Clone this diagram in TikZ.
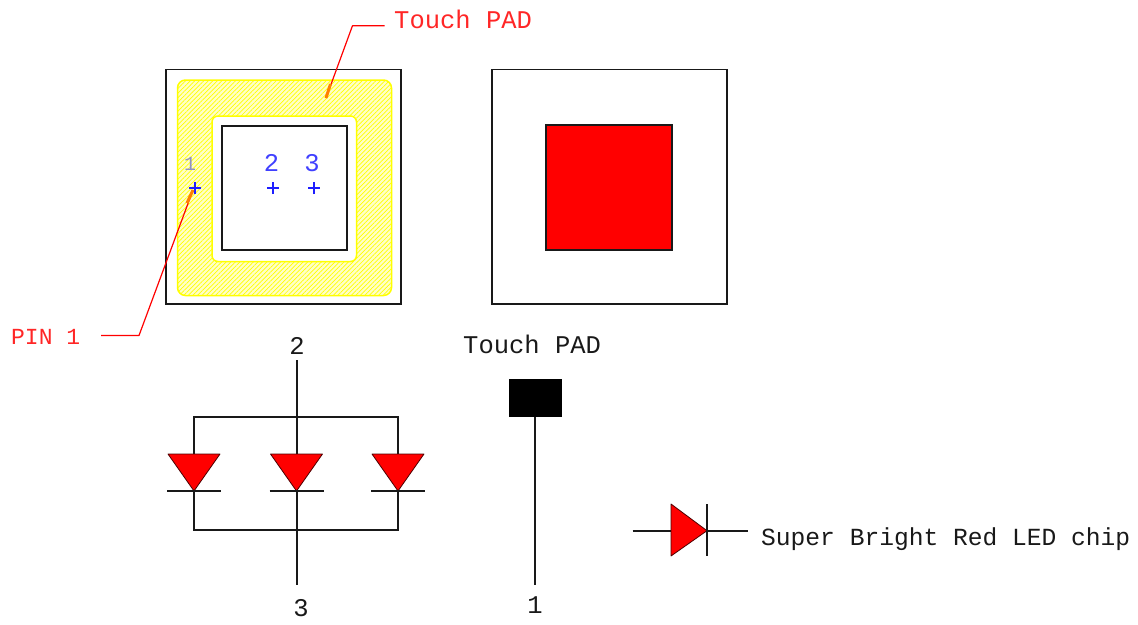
\documentclass[tikz,border=0pt]{standalone}
\usepackage{fontspec}
\setmainfont{Liberation Mono}
\usetikzlibrary{patterns.meta}
\definecolor{cadred}{RGB}{255,0,0}
\definecolor{cadblue}{RGB}{30,30,255}
\definecolor{cadyellow}{RGB}{255,255,0}
\definecolor{ink}{RGB}{25,25,25}
\newcommand{\padring}{[rounded corners=8pt] (177.5,80) rectangle (391.5,295.5) [rounded corners=6pt] (212,116) rectangle (356.5,261.5)}
\tikzset{
  wire/.style={draw=ink,line width=1.6pt},
  boxline/.style={draw=ink,line width=1.7pt},
  leader/.style={draw=cadred,line width=1.2pt,line join=round},
  leaderhot/.style={draw=orange,line width=3pt},
  cadtext/.style={inner sep=0pt,font=\fontsize{25.5}{26}\selectfont,text=ink},
  redtext/.style={cadtext,text=cadred!85!white},
  bluetext/.style={cadtext,text=cadblue!85!white},
  diodefill/.style={fill=cadred,draw=black!70!red,line width=.8pt,line join=round},
  crossmark/.style={draw=cadblue,line width=1.3pt},
}
\begin{document}
\begin{tikzpicture}[x=1pt,y=-1pt]
\useasboundingbox (0,0) rectangle (1138,624);
% left package
\draw[boxline] (166,69.5) rectangle (400.7,304);
% touch pad ring
\path[even odd rule,fill=cadyellow!22!white] \padring;
\path[even odd rule,pattern={Lines[angle=45,distance=3.2pt,line width=0.7pt]},pattern color=cadyellow] \padring;
\draw[cadyellow,line width=1.5pt] \padring;
\draw[boxline] (222,125.7) rectangle (347,250.3);
% pin labels and marks
\node[bluetext,anchor=base] (pintwo) at (271.5,171) {2};
\node[bluetext,anchor=base] (pinthree) at (312,171) {3};
\node[anchor=base,inner sep=0pt,font=\fontsize{20}{20}\selectfont,text=cadblue!30!gray!70!white] (pinone) at (190,170) {1};
\foreach \cx/\nm in {195/one,273/two,314/three}{
  \coordinate (cross\nm) at (\cx,188);
  \draw[crossmark] ([xshift=-6pt]cross\nm) -- ([xshift=6pt]cross\nm);
  \draw[crossmark] ([yshift=-6pt]cross\nm) -- ([yshift=6pt]cross\nm);
}
% leaders
\node[redtext,anchor=base west] (touchTop) at (394,28) {Touch PAD};
\coordinate (touchA) at (384.5,25.7);
\coordinate (touchB) at (352.5,25.7);
\coordinate (touchC) at (330.5,84);
\coordinate (touchD) at (326,98);
\draw[leader] (touchA) -- (touchB) -- (touchD);
\draw[leaderhot] (touchC) -- (touchD);
\node[redtext,anchor=base west,font=\fontsize{23}{24}\selectfont] (pinlabel) at (11,344) {PIN 1};
\coordinate (pinA) at (101,335.5);
\coordinate (pinB) at (139,335.5);
\coordinate (pinC) at (187,203);
\coordinate (pinD) at (193,190);
\draw[leader] (pinA) -- (pinB) -- (pinD);
\draw[leaderhot] (pinC) -- (pinD);
% right package
\draw[boxline] (491.7,69.5) rectangle (726.7,304);
\draw[boxline,fill=cadred] (546,125) rectangle (672,250);
% schematic
\node[cadtext,anchor=base] (sch2) at (297,354) {2};
\node[cadtext,anchor=base] (sch3) at (301,616) {3};
\node[cadtext,anchor=base] (sch1) at (535,613) {1};
\node[cadtext,anchor=base west] (schT) at (463,353) {Touch PAD};
\coordinate (wTop) at (297,360);
\coordinate (wBot) at (297,585);
\draw[wire] (wTop) -- (wBot);
\draw[wire] (194,491) -- (194,530) -- (398,530) -- (398,491);
\draw[wire] (194,454) -- (194,416.7) -- (398,416.7) -- (398,454);
\foreach \dx in {194,296.5,398}{
  \draw[diodefill] (\dx-26,454) -- (\dx+26,454) -- (\dx,491) -- cycle;
  \draw[wire] (\dx-27,491) -- (\dx+27,491);
}
\node[draw=black,fill=black,line width=1pt,minimum width=52pt,minimum height=37pt,inner sep=0pt] (pad) at (535,398) {};
\coordinate (padEnd) at (535,585);
\draw[wire] (pad.south) -- (padEnd);
% legend
\coordinate (lgA) at (632.7,530.7);
\coordinate (lgB) at (747.7,530.7);
\draw[wire] (lgA) -- (lgB);
\draw[diodefill] (671,504) -- (707,530.7) -- (671,556) -- cycle;
\draw[wire] (707,504) -- (707,556);
\node[cadtext,anchor=base west,font=\fontsize{24.6}{26}\selectfont] (legend) at (761,545) {Super Bright Red LED chip};
\end{tikzpicture}
\end{document}
